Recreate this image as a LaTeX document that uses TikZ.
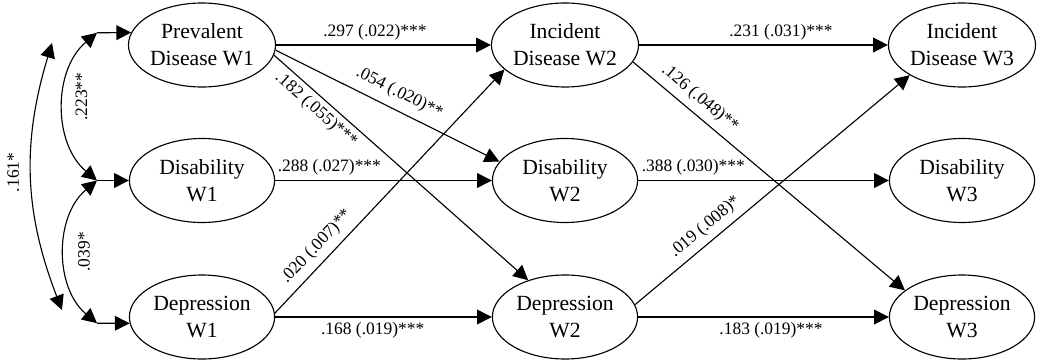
\documentclass[tikz,border=0pt]{standalone}
\usepackage{fontspec}
\setmainfont{Liberation Serif}
\usetikzlibrary{calc}
\usetikzlibrary{arrows.meta}
\usetikzlibrary{shapes.geometric}

\begin{document}
\begin{tikzpicture}[
  var/.style={draw,black,line width=0.8pt,ellipse,minimum width=3.63cm,minimum height=2.1cm,inner sep=0pt,align=center,font=\fontsize{15.4}{19}\selectfont},
  arr/.style={black,line width=0.8pt,-{Triangle[length=10.5pt,width=10.5pt]}},
  darr/.style={black,line width=0.8pt,{Triangle[length=10.5pt,width=10.5pt]}-{Triangle[length=10.5pt,width=10.5pt]}},
  coef/.style={font=\fontsize{12.4}{14}\selectfont}
]

\useasboundingbox (0,0) rectangle (25.975,9);

\node[var] (pw1) at (5.05,7.875) {Prevalent\\Disease W1};
\node[var] (dw1) at (5.05,4.4875) {Disability\\W1};
\node[var] (ew1) at (5.05,1.075) {Depression\\W1};
\node[var] (pw2) at (14.125,7.875) {Incident\\Disease W2};
\node[var] (dw2) at (14.125,4.4875) {Disability\\W2};
\node[var] (ew2) at (14.125,1.075) {Depression\\W2};
\node[var] (pw3) at (24.05,7.875) {Incident\\Disease W3};
\node[var] (dw3) at (24.05,4.4875) {Disability\\W3};
\node[var] (ew3) at (24.05,1.075) {Depression\\W3};

\coordinate (c1) at (2.425,8.18);
\coordinate (c2) at (2.425,4.4875);
\coordinate (c3) at (2.425,0.92);
\coordinate (c4) at (1.3,7.925);
\coordinate (c5) at (1.55,1.25);

\draw[arr] (c1) -- (pw1.170);
\draw[arr] (c2) -- (dw1.west);
\draw[arr] (c3) -- (ew1.185);
\draw[darr] (c1) to[bend right=50] node[coef,pos=0.44,xshift=0.43cm,rotate=90] {.223**} (c2);
\draw[darr] (c2) to[bend right=50] node[coef,pos=0.5,xshift=0.47cm,rotate=90] {.039*} (c3);
\draw[darr] (c4) to[bend right=19] node[coef,pos=0.48,xshift=-0.45cm,rotate=90] {.161*} (c5);

\draw[arr] (pw1.east) -- (pw2.west) node[coef,above,pos=0.46] {.297 (.022)***};
\draw[arr] (dw1.east) -- (dw2.west) node[coef,above,pos=0.25] {.288 (.027)***};
\draw[arr] (ew1.east) -- (ew2.west) node[coef,below,pos=0.45] {.168 (.019)***};
\draw[arr] (pw2.east) -- (pw3.west) node[coef,above,pos=0.57] {.231 (.031)***};
\draw[arr] (dw2.east) -- (dw3.west) node[coef,above,pos=0.22] {.388 (.030)***};
\draw[arr] (ew2.east) -- (ew3.west) node[coef,below,pos=0.53] {.183 (.019)***};

\draw[arr] (pw1.-4) -- (dw2.164.6) node[coef,sloped,above=2.5pt,pos=0.52] {.054 (.020)**};
\draw[arr] (pw1.-8) -- (ew2.135.7) node[coef,sloped,below,pos=0.2] {.182 (.055)***};
\draw[arr] (ew1.3.7) -- (pw2.202.4) node[coef,sloped,above=1.5pt,pos=0.23] {.020 (.007)**};
\draw[arr] (pw2.-14.6) -- (ew3.155.6) node[coef,sloped,above=1.5pt,pos=0.21] {.126 (.048)**};
\draw[arr] (ew2.10.8) -- (pw3.210) node[coef,sloped,above=1pt,pos=0.29] {.019 (.008)*};

\end{tikzpicture}
\end{document}
